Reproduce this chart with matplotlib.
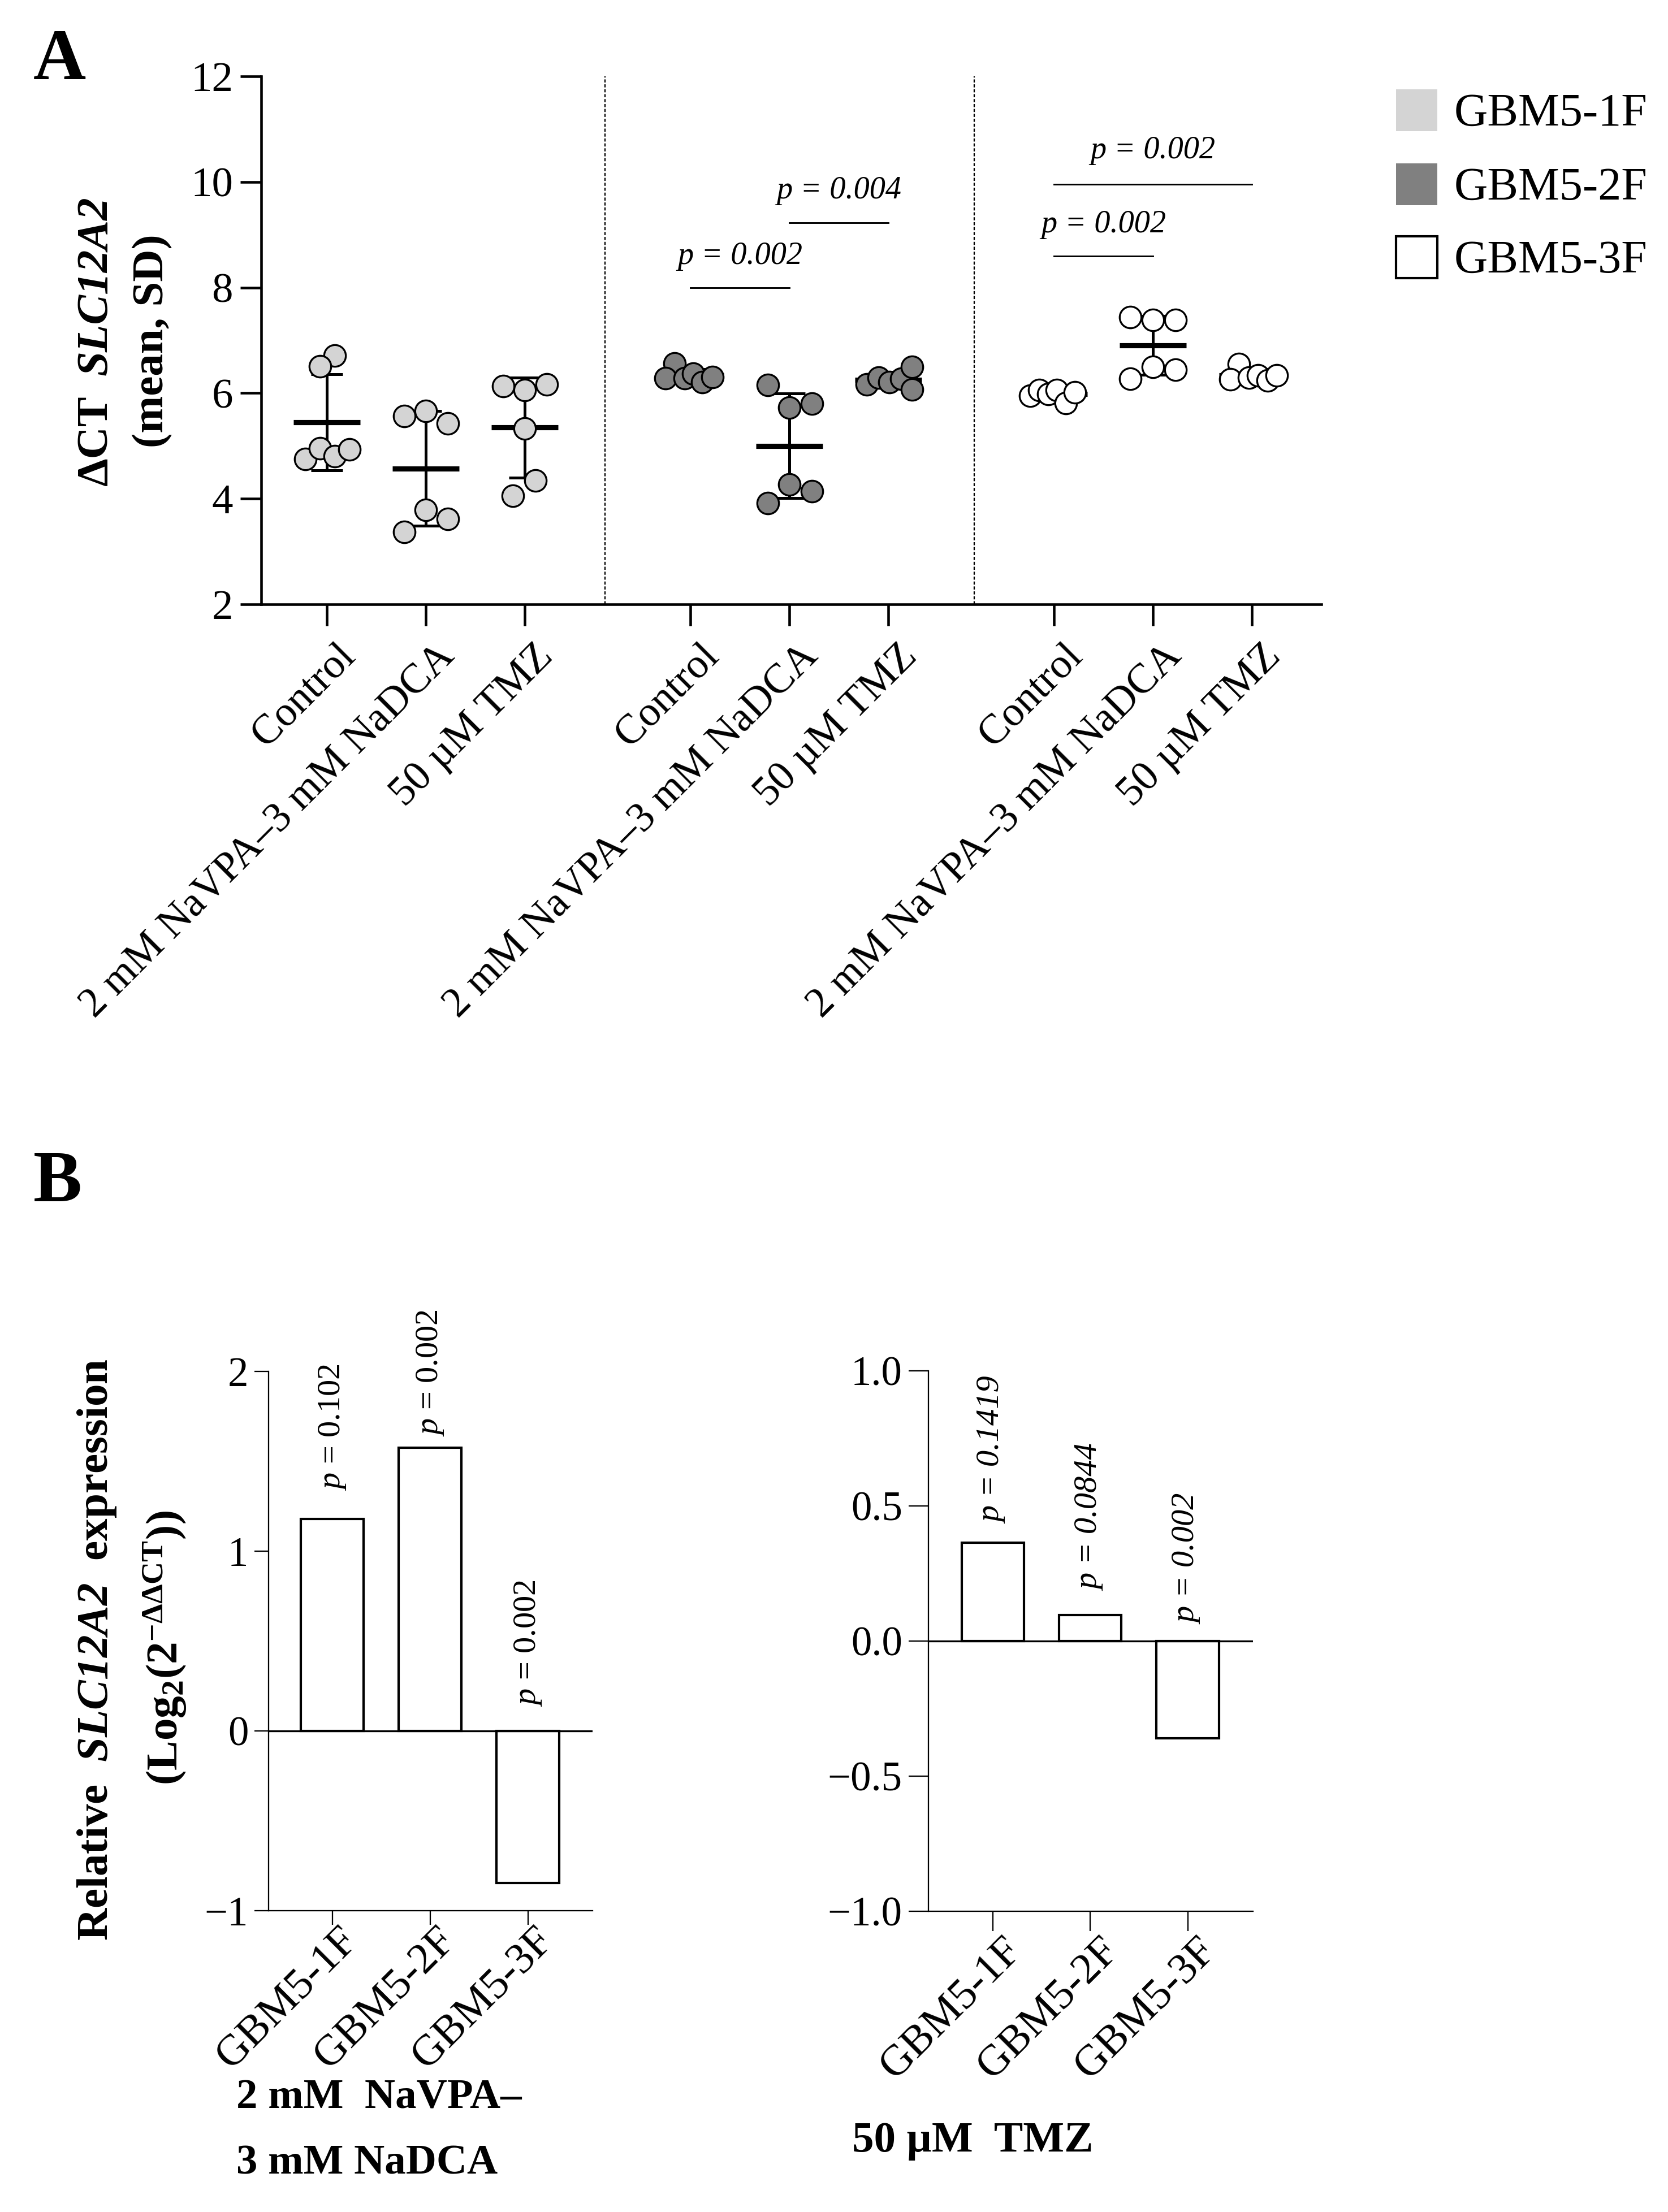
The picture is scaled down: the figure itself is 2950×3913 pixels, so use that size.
import numpy as np
import matplotlib
matplotlib.use('Agg')
import matplotlib.pyplot as plt
from matplotlib.patches import Rectangle
from matplotlib.transforms import ScaledTranslation

plt.rcParams['font.family'] = ['Liberation Serif', 'DejaVu Serif']
plt.rcParams['mathtext.fontset'] = 'custom'
plt.rcParams['mathtext.rm'] = 'Liberation Serif'
plt.rcParams['mathtext.it'] = 'Liberation Serif:italic'
plt.rcParams['mathtext.bf'] = 'Liberation Serif:bold'
plt.rcParams['mathtext.bfit'] = 'Liberation Serif:bold:italic'

# ---- data -------------------------------------------------------------
cell_lines = ['GBM5-1F', 'GBM5-2F', 'GBM5-3F']
treatments = ['Control', '2 mM NaVPA\u20133 mM NaDCA', '50 \u00b5M TMZ']
colors = ['#d4d4d4', '#808080', '#ffffff']

# delta CT per cell line, one list per treatment (Control, NaVPA-NaDCA, TMZ)
dct_1f = [[6.71, 6.51, 4.75, 4.96, 4.80, 4.93],
          [5.57, 5.66, 5.43, 3.79, 3.62, 3.37],
          [6.13, 6.06, 6.17, 5.33, 4.34, 4.06]]
dct_2f = [[6.56, 6.28, 6.28, 6.37, 6.21, 6.30],
          [6.15, 5.73, 5.80, 4.27, 4.14, 3.92],
          [6.16, 6.29, 6.21, 6.27, 6.50, 6.07]]
dct_3f = [[5.95, 6.06, 5.98, 6.06, 5.81, 6.01],
          [7.44, 7.39, 7.39, 6.50, 6.44, 6.27],
          [6.55, 6.26, 6.29, 6.34, 6.24, 6.34]]

# horizontal spread of the dots (fraction of category spacing)
jit_1f = [[0.08, -0.07, -0.22, -0.07, 0.08, 0.23],
          [-0.22, 0.0, 0.22, 0.0, 0.22, -0.22],
          [-0.22, 0.0, 0.22, 0.0, 0.11, -0.12]]
jit_2f = [[-0.16, -0.25, -0.06, 0.03, 0.12, 0.22],
          [-0.22, 0.0, 0.23, 0.0, 0.23, -0.22],
          [-0.22, -0.10, 0.01, 0.13, 0.24, 0.24]]
jit_3f = [[-0.24, -0.15, -0.06, 0.03, 0.12, 0.21],
          [-0.23, 0.0, 0.23, 0.0, 0.23, -0.23],
          [-0.13, -0.22, -0.03, 0.06, 0.16, 0.25]]

# significance bars: (cell line index, treatment a, treatment b, line y, text y, label)
sig_bars = [(1, 0, 1, 8.0, 8.6, 'p = 0.002'),
            (1, 1, 2, 9.23, 9.84, 'p = 0.004'),
            (2, 0, 1, 8.59, 9.19, 'p = 0.002'),
            (2, 0, 2, 9.96, 10.6, 'p = 0.002')]

# relative expression log2(2^-ddCT)
rel_navpa = [1.18, 1.577, -0.845]
rel_tmz = [0.365, 0.097, -0.36]
p_navpa = ['0.102', '0.002', '0.002']
p_tmz = ['0.1419', '0.0844', '0.002']
p_off_navpa = [0.156, 0.06, 0.135]
p_off_tmz = [0.07, 0.09, 0.063]

# ---- figure -----------------------------------------------------------
W, H, DPI = 2950, 3913, 300
fig = plt.figure(figsize=(W / DPI, H / DPI), dpi=DPI)


def fx(px):
    return px / W


def fy(px):
    return 1 - px / H


def shift_labels(ax, dx_pt):
    off = ScaledTranslation(dx_pt / 72, 0, fig.dpi_scale_trans)
    for lab in ax.get_xticklabels():
        lab.set_transform(lab.get_transform() + off)


# ---- panel A ----------------------------------------------------------
GROUP_STEP = 3.674
axA = fig.add_axes([fx(462), fy(1069), (2337 - 462) / W, (1069 - 135) / H])

all_dct = [dct_1f, dct_2f, dct_3f]
all_jit = [jit_1f, jit_2f, jit_3f]
xpos = []
for g in range(3):
    for c in range(3):
        x0 = g * GROUP_STEP + c
        xpos.append(x0)
        v = np.array(all_dct[g][c])
        m, s = v.mean(), v.std(ddof=1)
        axA.errorbar(x0, m, yerr=s, fmt='none', ecolor='k', elinewidth=1.2,
                     capsize=6.7, capthick=1.2, zorder=2)
        axA.hlines(m, x0 - 0.335, x0 + 0.335, color='k', lw=2.2, zorder=2)
        axA.scatter(x0 + np.array(all_jit[g][c]), v, s=9.2 ** 2, c=colors[g],
                    edgecolors='k', linewidths=0.8, zorder=3)

for xd in [2.81, 6.54]:
    axA.axvline(xd, color='k', lw=0.55, ls=(0, (2.4, 1.4)), zorder=1)

for g, a, b, yl, yt, lab in sig_bars:
    x1 = g * GROUP_STEP + a
    x2 = g * GROUP_STEP + b
    axA.plot([x1, x2], [yl, yl], color='k', lw=0.7)
    axA.text((x1 + x2) / 2, yt, lab, style='italic', ha='center', va='center',
             fontsize=13.5)

axA.set_xlim(-0.663, 10.05)
axA.set_ylim(2, 12)
axA.set_yticks(np.arange(2, 13, 2))
axA.set_xticks(xpos)
axA.set_xticklabels(treatments * 3, rotation=45, ha='right', va='top',
                    rotation_mode='anchor', fontsize=17.8)
for side in ['top', 'right']:
    axA.spines[side].set_visible(False)
for side in ['left', 'bottom']:
    axA.spines[side].set_linewidth(1.1)
axA.tick_params(direction='out', length=9, width=1.1)
axA.tick_params(axis='y', pad=3, labelsize=18)
axA.tick_params(axis='x', pad=5)
shift_labels(axA, 4)

# y label of A, written in pieces (bold + bold italic)
fig.text(fx(170), fy(859), '\u0394CT', rotation=90, ha='center',
         va='bottom', fontsize=19, fontweight='bold')
fig.text(fx(170), fy(347), 'SLC12A2', rotation=90, ha='center', va='top',
         fontsize=19, fontweight='bold', style='italic')
fig.text(fx(270), fy(603), '(mean, SD)', rotation=90, ha='center',
         va='center', fontsize=19, fontweight='bold')

# legend
for i, (name, col) in enumerate(zip(cell_lines, colors)):
    yc = [195, 326, 455][i]
    edge = 'k' if col == '#ffffff' else 'none'
    fig.add_artist(Rectangle((fx(2469), fy(yc + 36.5)), 73 / W, 73 / H,
                             transform=fig.transFigure, facecolor=col,
                             edgecolor=edge, lw=1.0))
    fig.text(fx(2572), fy(yc + 27), name, ha='left', va='baseline',
             fontsize=19.7)

fig.text(fx(59), fy(140), 'A', fontsize=31, fontweight='bold',
         va='baseline')
fig.text(fx(59), fy(2125), 'B', fontsize=31, fontweight='bold',
         va='baseline')

# ---- panel B ----------------------------------------------------------
axB1 = fig.add_axes([fx(475), fy(3380), (1048 - 475) / W, (3380 - 2426) / H])
axB2 = fig.add_axes([fx(1642), fy(3381), (2216 - 1642) / W, (3381 - 2425) / H])

panels = [(axB1, rel_navpa, p_navpa, p_off_navpa, (-0.65, 2.66), (-1, 2), 1.0),
          (axB2, rel_tmz, p_tmz, p_off_tmz, (-0.66, 2.67), (-1, 1), 0.5)]
for ax, vals, pv, offs, xl, yl, step in panels:
    xs = np.arange(len(cell_lines))
    ax.bar(xs, vals, width=0.64, facecolor='white', edgecolor='k',
           linewidth=1.0, zorder=2)
    ax.axhline(0, color='k', lw=0.8, zorder=3)
    for i, (v, p, o) in enumerate(zip(vals, pv, offs)):
        if ax is axB1:
            ax.text(i, max(v, 0) + o, '$p$ = ' + p, rotation=90, ha='center',
                    va='bottom', fontsize=14)
        else:
            ax.text(i, max(v, 0) + o, 'p = ' + p, rotation=90, ha='center',
                    va='bottom', fontsize=14, style='italic')
    ax.set_xlim(*xl)
    ax.set_ylim(*yl)
    ax.set_yticks(np.arange(yl[0], yl[1] + step / 2, step))
    ax.set_xticks(xs)
    ax.set_xticklabels(cell_lines, rotation=45, ha='right', va='top',
                       rotation_mode='anchor', fontsize=18.5)
    for side in ['top', 'right']:
        ax.spines[side].set_visible(False)
    for side in ['left', 'bottom']:
        ax.spines[side].set_linewidth(0.55)
    ax.tick_params(direction='out', width=0.55)
    ax.tick_params(axis='y', pad=2.6, labelsize=17.5)

axB1.tick_params(length=6)
axB1.tick_params(axis='x', pad=-2)
shift_labels(axB1, 2.4)
axB2.tick_params(length=8.5)
axB2.tick_params(axis='x', pad=-0.5)
shift_labels(axB2, 3.8)

fig.text(fx(172), fy(2918), 'Relative  $\\mathbfit{SLC12A2}$  expression',
         rotation=90, ha='center', va='center', fontsize=19,
         fontweight='bold')
fig.text(fx(292), fy(2915), r'$\mathbf{(Log_2(2^{-\Delta\Delta CT}))}$',
         rotation=90, ha='center', va='center', fontsize=19)

fig.text(fx(418), fy(3730), '2 mM  NaVPA\u2013', fontsize=18,
         fontweight='bold', va='baseline')
fig.text(fx(418), fy(3845), '3 mM NaDCA', fontsize=18, fontweight='bold',
         va='baseline')
fig.text(fx(1507), fy(3806), '50 \u00b5M  TMZ', fontsize=18.5,
         fontweight='bold', va='baseline')

fig.savefig('out.png', dpi=DPI)
